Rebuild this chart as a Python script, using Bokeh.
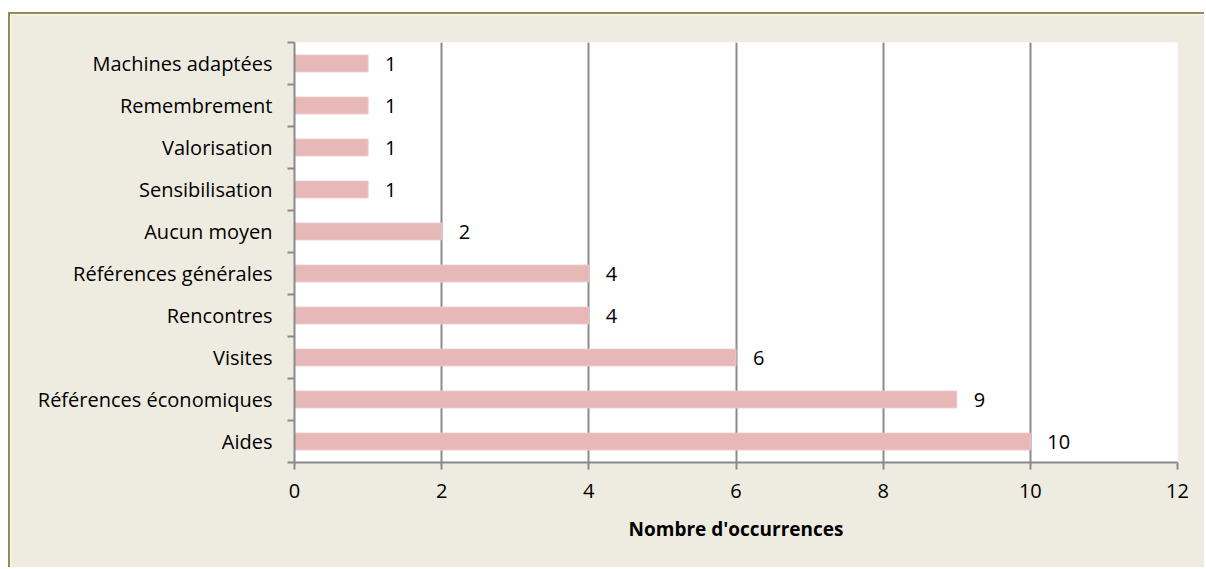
from bokeh.plotting import figure
from bokeh.models import ColumnDataSource, FixedTicker, Range1d, LabelSet
from bokeh.core.properties import value
from bokeh.embed import file_html
from bokeh.resources import INLINE

categories = ["Aides", "Références économiques", "Visites", "Rencontres",
              "Références générales", "Aucun moyen", "Sensibilisation",
              "Valorisation", "Remembrement", "Machines adaptées"]
values = [10, 9, 6, 4, 4, 2, 1, 1, 1, 1]
x_ticks = [0, 2, 4, 6, 8, 10, 12]

FONT = "Open Sans"
BG = "#EEEBE0"
GRID = "#8A8A8A"

pos = [i + 0.5 for i in range(len(categories))]
src = ColumnDataSource(dict(y=pos, v=values, lab=[str(v) for v in values]))

p = figure(width=1196, height=555, output_backend="svg", toolbar_location=None,
           x_range=Range1d(0, 12), y_range=Range1d(0, len(categories)),
           min_border_left=284, min_border_right=29, min_border_top=28,
           min_border_bottom=107)
p.background_fill_color = "white"
p.border_fill_color = BG
p.outline_line_color = None
p.styles = {"margin-left": "8px", "margin-top": "12px",
            "border-left": "2px solid #948A54", "border-top": "2px solid #948A54"}

p.hbar(y="y", right="v", left=0, height=0.4, source=src,
       fill_color="#E6B9B8", line_color="#EEC6C5", line_width=1)

labels = LabelSet(x="v", y="y", text="lab", source=src, x_offset=17,
                  text_baseline="middle", text_align="left",
                  text_font=value(FONT), text_font_size="20px", text_color="black")
p.add_layout(labels)

# x axis
p.xaxis.ticker = FixedTicker(ticks=x_ticks)
p.xaxis.axis_label = "Nombre d'occurrences"
p.xaxis.axis_label_text_font = FONT
p.xaxis.axis_label_text_font_style = "bold"
p.xaxis.axis_label_text_font_size = "19px"
p.xaxis.axis_label_text_color = "black"
p.xaxis.axis_label_standoff = 15
p.xaxis.major_label_text_font = FONT
p.xaxis.major_label_text_font_size = "20px"
p.xaxis.major_label_text_color = "black"
p.xaxis.major_label_standoff = 14
p.xaxis.major_tick_in = 0
p.xaxis.major_tick_out = 7
p.xaxis.minor_tick_out = 0
p.xaxis.minor_tick_in = 0
p.xaxis.axis_line_color = GRID
p.xaxis.axis_line_width = 2
p.xaxis.major_tick_line_color = GRID
p.xaxis.major_tick_line_width = 2

# y axis: labels at centers, ticks at boundaries
p.yaxis.ticker = FixedTicker(ticks=pos, minor_ticks=list(range(len(categories) + 1)))
p.yaxis.major_label_overrides = {pp: c for pp, c in zip(pos, categories)}
p.yaxis.major_label_text_font = FONT
p.yaxis.major_label_text_font_size = "20px"
p.yaxis.major_label_text_color = "black"
p.yaxis.major_label_standoff = 15
p.yaxis.major_tick_out = 0
p.yaxis.major_tick_in = 0
p.yaxis.minor_tick_out = 7
p.yaxis.minor_tick_in = 0
p.yaxis.minor_tick_line_color = GRID
p.yaxis.minor_tick_line_width = 2
p.yaxis.axis_line_color = GRID
p.yaxis.axis_line_width = 2

p.xgrid.ticker = FixedTicker(ticks=x_ticks[1:])
p.xgrid.grid_line_color = GRID
p.xgrid.grid_line_width = 2
p.ygrid.grid_line_color = None

open("out.html", "w").write(file_html(p, INLINE))
